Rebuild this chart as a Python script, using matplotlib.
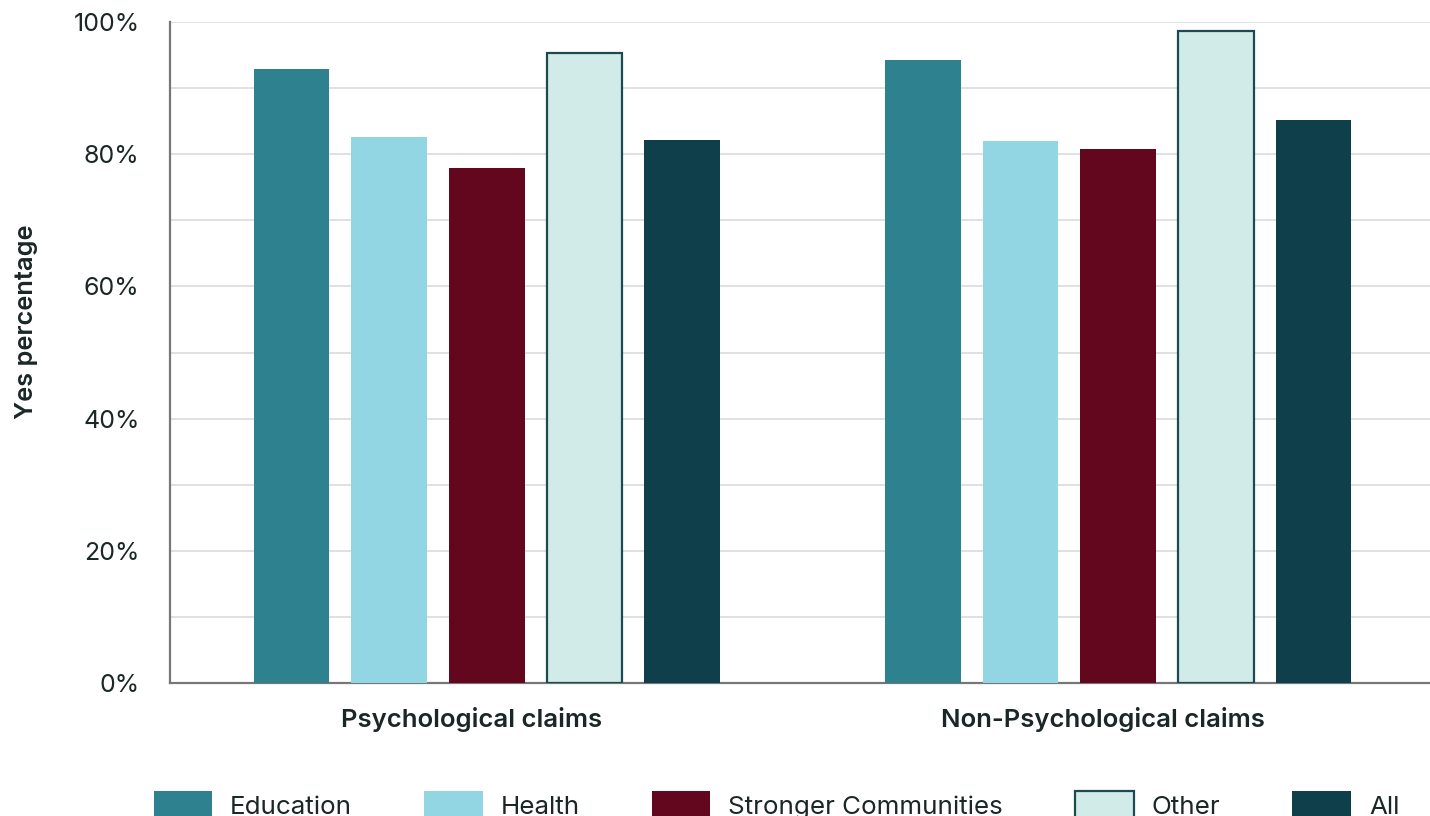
import matplotlib.pyplot as plt
import numpy as np

plt.rcParams['font.family'] = ['Inter', 'DejaVu Sans']

groups = ['Psychological claims', 'Non-Psychological claims']
series = ['Education', 'Health', 'Stronger Communities', 'Other', 'All']
values = {
    'Education': [92.9, 94.3],
    'Health': [82.6, 82.0],
    'Stronger Communities': [77.9, 80.8],
    'Other': [95.3, 98.6],
    'All': [82.1, 85.2],
}
colors = {
    'Education': '#2e818f',
    'Health': '#93d6e3',
    'Stronger Communities': '#63071e',
    'Other': '#d1ebe8',
    'All': '#0e3f4a',
}
text_color = '#1b2626'

fig = plt.figure(figsize=(14.3, 8.16), dpi=100)
ax = fig.add_axes([170 / 1430, 1 - 683 / 816, 1260 / 1430, 661 / 816])

x = np.arange(len(groups))
step = 0.1547
width = 0.12
for i, name in enumerate(series):
    offs = (i - 2) * step
    if name == 'Other':
        ax.bar(x + offs, values[name], width, color=colors[name],
               edgecolor='#1d4a52', linewidth=1.6, label=name, zorder=3)
    else:
        ax.bar(x + offs, values[name], width, color=colors[name],
               label=name, zorder=3)

ax.set_xlim(-0.502, 1.494)
ax.set_ylim(0, 100)
ax.set_yticks(range(0, 101, 20))
ax.set_yticks(range(0, 101, 10), minor=True)
ax.set_yticklabels([f'{v}%' for v in range(0, 101, 20)])
ax.grid(axis='y', which='both', color='#d9dcdc', linewidth=1.2, zorder=0)
ax.set_axisbelow(True)

ax.set_xticks(x - 0.024)
ax.set_xticklabels(groups, fontsize=18.5, fontweight='semibold', color=text_color)
ax.tick_params(axis='x', length=0, pad=17)
ax.tick_params(axis='y', which='both', length=0, pad=22, labelsize=18,
               labelcolor=text_color)

for s in ['top', 'right']:
    ax.spines[s].set_visible(False)
for s in ['left', 'bottom']:
    ax.spines[s].set_color('#777777')
    ax.spines[s].set_linewidth(1.6)

ax.set_ylabel('Yes percentage', fontsize=18.3, fontweight='semibold', color=text_color)
ax.yaxis.set_label_coords(-0.1048, 0.546)

leg = fig.legend(loc='center', bbox_to_anchor=(0.543, 1 - 805 / 816), ncol=5,
                 frameon=False, fontsize=18.7, handlelength=2.25, handleheight=1.2,
                 handletextpad=0.7, columnspacing=2.77, labelcolor=text_color)

fig.savefig('out.png', dpi=100)
